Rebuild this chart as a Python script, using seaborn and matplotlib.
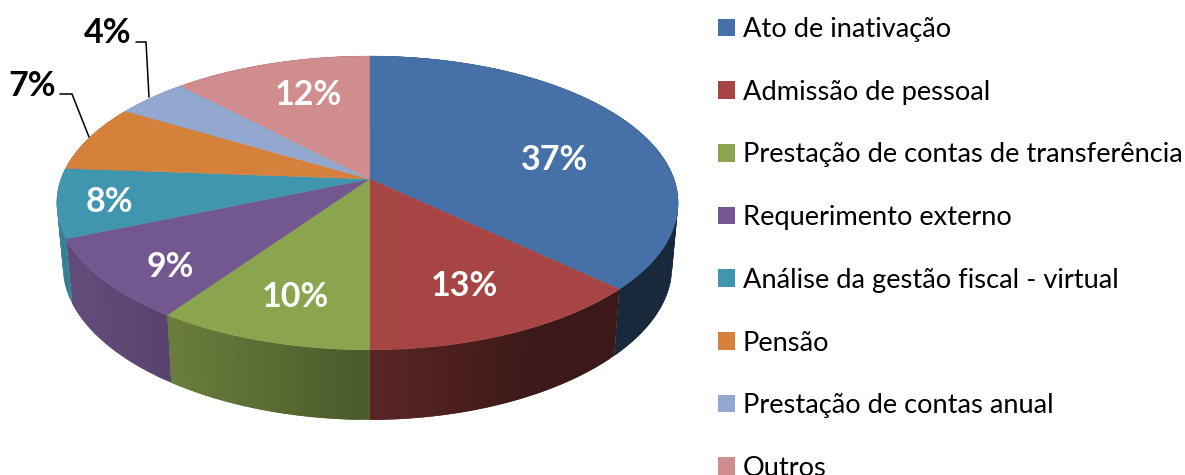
import numpy as np
import matplotlib
matplotlib.use('Agg')
import matplotlib.pyplot as plt
from matplotlib.patches import Patch
import seaborn as sns

# Data
CATEGORIES = ['Ato de inativação', 'Admissão de pessoal', 'Prestação de contas de transferência',
              'Requerimento externo', 'Análise da gestão fiscal - virtual', 'Pensão',
              'Prestação de contas anual', 'Outros']
VALUES = [37.0, 13.0, 9.6, 9.0, 7.6, 7.4, 4.4, 12.0]  # slice sizes, labels round them
COLORS = ['#4571A8', '#A74544', '#8AA54E', '#72588E', '#4096AF', '#D6813B', '#93A8CF', '#CF8E8D']

# Layout, in pixels of the 1185x475 picture
APEX_X, APEX_Y = 369.5, 179
SCALE_LEFT, SCALE_RIGHT, SCALE_Y, TILT = 308.5, 304.5, 143, 0.163
DEPTH = 70
LABEL_POS = [(555, 160), (464, 286), (295, 297), (170, 267), (109, 202), (32, 86), (108, 33), (308, 95)]
LABEL_COLOR = ['white', 'white', 'white', 'white', 'white', 'black', 'black', 'white']
LEADERS = {5: [(60, 94), (72, 94), (89, 137)], 6: [(136, 42), (146, 42), (149, 97)]}


def project(theta):
    """Clockwise angle from the top of the disc -> picture pixels, with perspective."""
    x = np.sin(theta)
    y = np.cos(theta)
    d = 1 + TILT * y
    return APEX_X + np.where(x > 0, SCALE_RIGHT, SCALE_LEFT) * x / d, APEX_Y - SCALE_Y * y / d


def project_bottom(theta):
    xs, ys = project(theta)
    dx = xs - APEX_X
    return APEX_X + dx * 0.98, ys + DEPTH - 5 * (dx / 300) ** 2


sns.set_theme(style='white')
plt.rcParams['font.family'] = ['Lato', 'DejaVu Sans']
palette = sns.color_palette(COLORS)

fig = plt.figure(figsize=(11.85, 4.75), dpi=100)
ax = fig.add_axes([0, 0, 1, 1])
ax.set_xlim(0, 1185)
ax.set_ylim(475, 0)
ax.axis('off')

edges = np.cumsum([0] + VALUES) / sum(VALUES) * 2 * np.pi

# side wall first, the top surface covers what is behind
for i, col in enumerate(palette):
    th = np.linspace(edges[i], edges[i + 1], max(int(VALUES[i] * 3), 6))
    for k in range(len(th) - 1):
        # each quad runs on under the next one, so no seams show
        seg = np.linspace(th[k], th[min(k + 2, len(th) - 1)], 6)
        xt, yt = project(seg)
        xb, yb = project_bottom(seg)
        mid = project(th[k:k + 2].mean())[0]
        f = np.clip(0.54 - 0.0011 * (mid - APEX_X), 0.36, 0.85)
        shade = tuple(c * f for c in col)
        ax.fill(np.r_[xt, xb[::-1]], np.r_[yt, yb[::-1]], facecolor=shade, edgecolor='none', zorder=2)

# top surface
for i, col in enumerate(palette):
    th = np.linspace(edges[i], edges[i + 1], 80)
    xs, ys = project(th)
    ax.fill(np.r_[APEX_X, xs], np.r_[APEX_Y, ys], color=col, lw=0.3, zorder=3)

for i, v in enumerate(VALUES):
    ax.text(LABEL_POS[i][0], LABEL_POS[i][1], f'{v:.0f}%', color=LABEL_COLOR[i], fontsize=24.5,
            fontweight='bold', ha='center', va='center', zorder=5)

for pts in LEADERS.values():
    ax.plot(*zip(*pts), color='black', lw=1.1, zorder=4, solid_joinstyle='miter')

fs = 19.6
handles = [Patch(facecolor=c, edgecolor='none') for c in palette]
ax.legend(handles, CATEGORIES, loc='upper left', bbox_to_anchor=(718, 17),
          bbox_transform=ax.transData, frameon=False, fontsize=fs, borderpad=0, borderaxespad=0,
          handlelength=17 / (fs * 100 / 72), handleheight=17 / (fs * 100 / 72),
          handletextpad=0.28, labelspacing=1.385, labelcolor='black')

fig.savefig('out.png', dpi=100)
